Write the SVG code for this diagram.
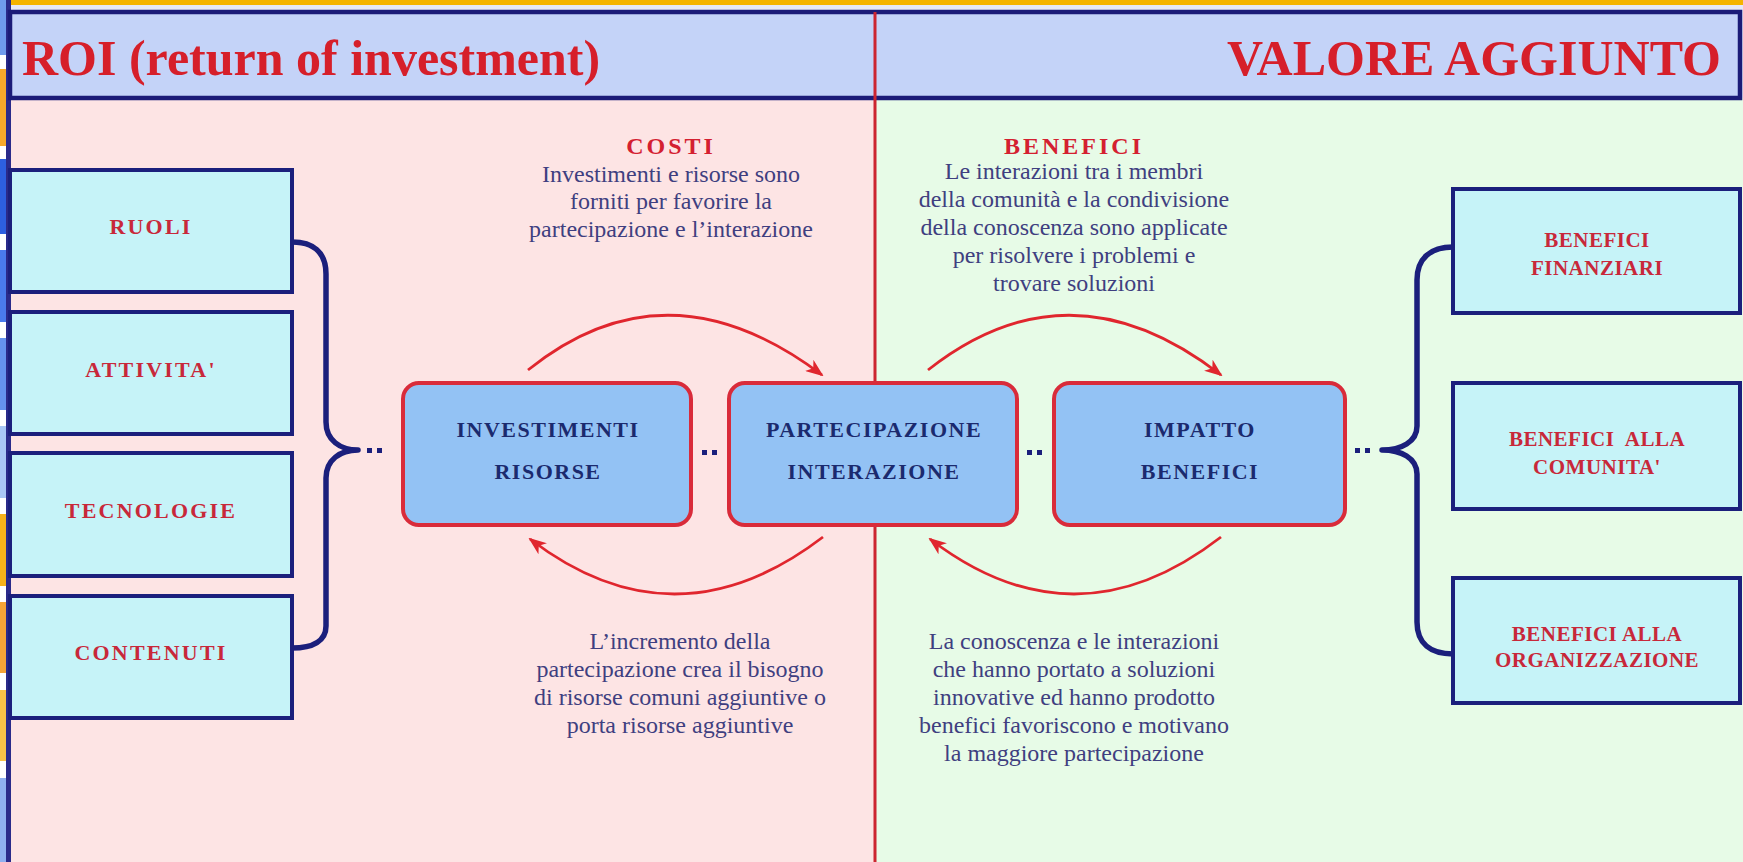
<svg xmlns="http://www.w3.org/2000/svg" width="1743" height="862" viewBox="0 0 1743 862">
<defs>
<style>
.hdr{font-family:"Liberation Serif",serif;font-weight:bold;font-size:50px;fill:#d61f2a}
.lbox{fill:#c6f3f8;stroke:#1b1f7c;stroke-width:4}
.ltxt{font-family:"Liberation Serif",serif;font-weight:bold;font-size:22px;fill:#c8283a;letter-spacing:2.2px;text-anchor:middle}
.rtxt{font-family:"Liberation Serif",serif;font-weight:bold;font-size:21px;fill:#c8283a;letter-spacing:0.5px;text-anchor:middle}
.cbox{fill:#93c2f4;stroke:#d92b3a;stroke-width:4}
.ctxt{font-family:"Liberation Serif",serif;font-weight:bold;font-size:22px;fill:#1b2a6e;letter-spacing:1.5px;text-anchor:middle}
.ttl{font-family:"Liberation Serif",serif;font-weight:bold;font-size:24px;fill:#d42030;letter-spacing:3px;text-anchor:middle}
.par{font-family:"Liberation Serif",serif;font-size:24px;fill:#3f3f80;text-anchor:middle}
.arc{fill:none;stroke:#e0262e;stroke-width:2.8}
.brace{fill:none;stroke:#1b1f7c;stroke-width:5.5;stroke-linejoin:round}
.dot{fill:#1b1f7c}
</style>
<marker id="ah" markerWidth="18" markerHeight="14" refX="16" refY="7" orient="auto" markerUnits="userSpaceOnUse">
<path d="M0,0 L18,7 L0,14 L5,7 Z" fill="#e0262e"/>
</marker>
</defs>

<!-- background -->
<rect x="0" y="0" width="1743" height="862" fill="#e6e9f8"/>
<rect x="11" y="98" width="864" height="764" fill="#fde4e4"/>
<rect x="875" y="98" width="868" height="764" fill="#e7fbe7"/>
<rect x="11" y="0" width="1732" height="5" fill="#f5b400"/>

<!-- left edge stripes -->
<g id="left-edge">
<rect x="0" y="0" width="6" height="862" fill="#ffffff"/>
<rect x="0" y="0" width="6" height="55" fill="#6f9bec"/>
<rect x="0" y="69" width="6" height="77" fill="#f6a82a"/>
<rect x="0" y="159" width="6" height="75" fill="#2d5fe0"/>
<rect x="0" y="250" width="6" height="72" fill="#4a7bec"/>
<rect x="0" y="338" width="6" height="72" fill="#6592ee"/>
<rect x="0" y="426" width="6" height="72" fill="#a9c7f5"/>
<rect x="0" y="514" width="6" height="72" fill="#f7b21a"/>
<rect x="0" y="602" width="6" height="71" fill="#f5a437"/>
<rect x="0" y="690" width="6" height="71" fill="#f8c247"/>
<rect x="0" y="778" width="6" height="84" fill="#8fb0f0"/>
<rect x="6" y="0" width="5" height="862" fill="#2a2a8a"/>
</g>

<!-- header -->
<g id="header">
<rect x="10" y="12" width="1730" height="86" fill="#c4d3f8" stroke="#1b1b78" stroke-width="4.5"/>
<text class="hdr" x="22" y="75">ROI (return of investment)</text>
<text class="hdr" x="1721" y="75" text-anchor="end">VALORE AGGIUNTO</text>
</g>

<!-- divider -->
<line x1="875" y1="12" x2="875" y2="862" stroke="#cc2530" stroke-width="3"/>

<!-- connectors -->
<g id="connectors">
<path class="brace" d="M292 242 C313 242 326 252 326 274 L326 422 C326 440 340 450 358 450 C340 450 326 460 326 478 L326 626 C326 641 313 648 292 648"/>
<path class="brace" d="M1453 247 C1431 247 1417 258 1417 280 L1417 426 C1417 442 1401 450 1382 450 C1401 450 1417 458 1417 474 L1417 622 C1417 644 1431 654 1453 654"/>
<g class="dot">
<rect x="367" y="448" width="5" height="5"/><rect x="377" y="448" width="5" height="5"/>
<rect x="702" y="450" width="5" height="5"/><rect x="712" y="450" width="5" height="5"/>
<rect x="1027" y="450" width="5" height="5"/><rect x="1037" y="450" width="5" height="5"/>
<rect x="1355" y="448" width="5" height="5"/><rect x="1365" y="448" width="5" height="5"/>
</g>
<path class="arc" d="M528 370 Q667 258 822 375" marker-end="url(#ah)"/>
<path class="arc" d="M928 370 Q1070 258 1221 375" marker-end="url(#ah)"/>
<path class="arc" d="M823 537 Q675 650 530 539" marker-end="url(#ah)"/>
<path class="arc" d="M1221 537 Q1075 650 930 539" marker-end="url(#ah)"/>
</g>

<!-- left boxes -->
<g id="ruoli"><rect class="lbox" x="10" y="170" width="282" height="122"/><text class="ltxt" x="151" y="234">RUOLI</text></g>
<g id="attivita"><rect class="lbox" x="10" y="312" width="282" height="122"/><text class="ltxt" x="151" y="377">ATTIVITA'</text></g>
<g id="tecnologie"><rect class="lbox" x="10" y="453" width="282" height="123"/><text class="ltxt" x="151" y="518">TECNOLOGIE</text></g>
<g id="contenuti"><rect class="lbox" x="10" y="596" width="282" height="122"/><text class="ltxt" x="151" y="660">CONTENUTI</text></g>

<!-- center boxes -->
<g id="investimenti"><rect class="cbox" x="403" y="383" width="288" height="142" rx="16"/><text class="ctxt" x="548" y="437">INVESTIMENTI</text><text class="ctxt" x="548" y="479">RISORSE</text></g>
<g id="partecipazione"><rect class="cbox" x="729" y="383" width="288" height="142" rx="16"/><text class="ctxt" x="874" y="437">PARTECIPAZIONE</text><text class="ctxt" x="874" y="479">INTERAZIONE</text></g>
<g id="impatto"><rect class="cbox" x="1054" y="383" width="291" height="142" rx="16"/><text class="ctxt" x="1200" y="437">IMPATTO</text><text class="ctxt" x="1200" y="479">BENEFICI</text></g>

<!-- right boxes -->
<g id="finanziari"><rect class="lbox" x="1453" y="189" width="287" height="124"/><text class="rtxt" x="1597" y="247">BENEFICI</text><text class="rtxt" x="1597" y="275">FINANZIARI</text></g>
<g id="comunita"><rect class="lbox" x="1453" y="383" width="287" height="126"/><text class="rtxt" x="1597" y="446" xml:space="preserve">BENEFICI  ALLA</text><text class="rtxt" x="1597" y="474">COMUNITA'</text></g>
<g id="organizzazione"><rect class="lbox" x="1453" y="578" width="287" height="125"/><text class="rtxt" x="1597" y="641">BENEFICI ALLA</text><text class="rtxt" x="1597" y="667">ORGANIZZAZIONE</text></g>

<!-- texts -->
<g id="costi">
<text class="ttl" x="671" y="154">COSTI</text>
<text class="par" x="671" y="182">Investimenti e risorse sono</text>
<text class="par" x="671" y="209">forniti per favorire la</text>
<text class="par" x="671" y="237">partecipazione e l’interazione</text>
</g>
<g id="benefici">
<text class="ttl" x="1074" y="154">BENEFICI</text>
<text class="par" x="1074" y="179">Le interazioni tra i membri</text>
<text class="par" x="1074" y="207">della comunità e la condivisione</text>
<text class="par" x="1074" y="235">della conoscenza sono applicate</text>
<text class="par" x="1074" y="263">per risolvere i problemi e</text>
<text class="par" x="1074" y="291">trovare soluzioni</text>
</g>
<g id="incremento">
<text class="par" x="680" y="649">L’incremento della</text>
<text class="par" x="680" y="677">partecipazione crea il bisogno</text>
<text class="par" x="680" y="705">di risorse comuni aggiuntive o</text>
<text class="par" x="680" y="733">porta risorse aggiuntive</text>
</g>
<g id="conoscenza">
<text class="par" x="1074" y="649">La conoscenza e le interazioni</text>
<text class="par" x="1074" y="677">che hanno portato a soluzioni</text>
<text class="par" x="1074" y="705">innovative ed hanno prodotto</text>
<text class="par" x="1074" y="733">benefici favoriscono e motivano</text>
<text class="par" x="1074" y="761">la maggiore partecipazione</text>
</g>
</svg>
